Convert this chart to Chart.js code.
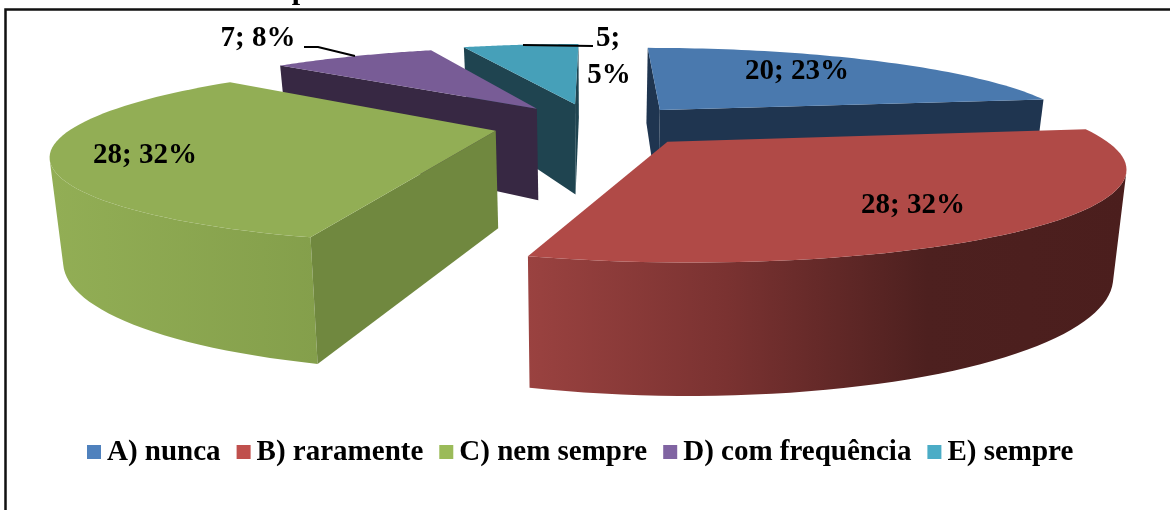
<!DOCTYPE html>
<html>
<head>
<meta charset="utf-8">
<style>
  html, body { margin: 0; padding: 0; background: #fff; }
  canvas { display: block; }
</style>
<script src="https://cdn.jsdelivr.net/npm/chart.js@4/dist/chart.umd.js"></script>
</head>
<body>
<canvas id="pieChart" width="1170" height="510"></canvas>
<script>
'use strict';

const categories = ['A) nunca', 'B) raramente', 'C) nem sempre', 'D) com frequência', 'E) sempre'];
const answers = [20, 28, 28, 7, 5];
const percents = [23, 32, 32, 8, 5];

// how far each slice is pulled out of the pie, as a share of the radius
const explode = [0.25, 0.255, 0.24, 0.25, 0.27];

const topColors = ['#4a79ae', '#b04a47', '#92ae55', '#785c96', '#46a0b9'];
const sideColors = ['#1f3550', '#953c3a', '#70883f', '#372843', '#1f4450'];
const wallShades = [
  ['#1f3550', '#1f3550'],
  ['#9a4240', '#7a3231', '#4d201f', '#4b1e1d'],
  ['#92ae55', '#849f4b'],
  ['#372843', '#372843'],
  ['#1f4450', '#1f4450']
];
const legendColors = ['#4f81bd', '#c0504d', '#9bbb59', '#8064a2', '#4bacc6'];

const serif = '"Liberation Serif", serif';

// perspective camera used for the tilted pie
const cam = { cx: 594, y0: 125, scaleX: 420, scaleY: 83, depth: 96, persp: 0.235, shrink: 0.025 };

function project(x, y, z) {
  const w = 1 / (1 + cam.persp * y);
  const s = 1 - cam.shrink * z;
  return {
    x: cam.cx + cam.scaleX * x * w * s,
    y: cam.y0 - cam.scaleY * y * w + cam.depth * z * w
  };
}

function sliceOutline(el, pull) {
  const mid = (el.startAngle + el.endAngle) / 2;
  const ax = Math.cos(mid) * pull;
  const ay = -Math.sin(mid) * pull;
  const pts = [[ax, ay]];
  const steps = 60;
  for (let i = 0; i <= steps; i++) {
    const a = el.startAngle + (el.endAngle - el.startAngle) * i / steps;
    pts.push([ax + Math.cos(a), ay - Math.sin(a)]);
  }
  return pts;
}

function fillPoly(ctx, pts, color) {
  ctx.beginPath();
  pts.forEach(function (p, i) {
    if (i === 0) ctx.moveTo(p.x, p.y);
    else ctx.lineTo(p.x, p.y);
  });
  ctx.closePath();
  ctx.fillStyle = color;
  ctx.fill();
}

function area(q) {
  let sum = 0;
  q.forEach(function (p, i) {
    const n = q[(i + 1) % q.length];
    sum += p.x * n.y - n.x * p.y;
  });
  return sum / 2;
}

// pie controller that draws every arc as an extruded slice
class Pie3DController extends Chart.PieController {
  draw() {
    const ctx = this.chart.ctx;
    const arcs = this.getMeta().data;
    const order = arcs.map(function (el, i) { return i; });
    const depthOf = function (i) { return -Math.sin((arcs[i].startAngle + arcs[i].endAngle) / 2); };
    order.sort(function (a, b) { return depthOf(b) - depthOf(a); });

    order.forEach(function (i) {
      const outline = sliceOutline(arcs[i], explode[i]);
      const top = outline.map(function (p) { return project(p[0], p[1], 0); });
      const bottom = outline.map(function (p) { return project(p[0], p[1], 1); });
      const last = outline.length - 1;

      // outer wall: one polygon along the part of the rim facing the camera
      const rimTop = [];
      const rimBottom = [];
      for (let k = 1; k < last; k++) {
        if (area([top[k], top[k + 1], bottom[k + 1], bottom[k]]) < 0) {
          if (!rimTop.length) {
            rimTop.push(top[k]);
            rimBottom.push(bottom[k]);
          }
          rimTop.push(top[k + 1]);
          rimBottom.push(bottom[k + 1]);
        }
      }
      if (rimTop.length) {
        const wall = rimTop.concat(rimBottom.reverse());
        const xs = wall.map(function (p) { return p.x; });
        const shade = ctx.createLinearGradient(Math.min.apply(null, xs), 0, Math.max.apply(null, xs), 0);
        wallShades[i].forEach(function (c, n) {
          shade.addColorStop(n / (wallShades[i].length - 1), c);
        });
        fillPoly(ctx, wall, shade);
      }

      // the two cut faces, only when they look towards the camera
      [[0, 1], [last, 0]].forEach(function (e) {
        const q = [top[e[0]], top[e[1]], bottom[e[1]], bottom[e[0]]];
        if (area(q) < 0) fillPoly(ctx, q, sideColors[i]);
      });

      fillPoly(ctx, top, topColors[i]);
    });
  }
}
Pie3DController.id = 'pie3d';
Pie3DController.defaults = Chart.PieController.defaults;
Pie3DController.overrides = Chart.PieController.overrides;
Chart.register(Pie3DController);

// frame, cut off heading letter, value labels with leaders and the legend row
const decorations = {
  id: 'decorations',
  beforeDraw(chart) {
    const ctx = chart.ctx;
    ctx.save();
    ctx.strokeStyle = '#111';
    ctx.lineWidth = 2.5;
    ctx.beginPath();
    ctx.moveTo(5.5, 510);
    ctx.lineTo(5.5, 9.5);
    ctx.lineTo(1170, 9.5);
    ctx.stroke();
    ctx.fillStyle = '#000';
    ctx.font = 'bold 30px ' + serif;
    ctx.textAlign = 'center';
    ctx.textBaseline = 'alphabetic';
    ctx.fillText('p', 300, -1);
    ctx.restore();
  },
  afterDraw(chart) {
    const ctx = chart.ctx;
    ctx.save();
    ctx.strokeStyle = '#000';
    ctx.lineWidth = 2;
    ctx.beginPath();
    ctx.moveTo(304, 47);
    ctx.lineTo(318, 47);
    ctx.lineTo(355, 56);
    ctx.moveTo(523, 45);
    ctx.lineTo(593, 46);
    ctx.stroke();

    ctx.fillStyle = '#000';
    ctx.font = 'bold 29px ' + serif;
    ctx.textAlign = 'center';
    ctx.textBaseline = 'middle';
    const spots = [[797, 72], [913, 206], [145, 156], [258, 39]];
    spots.forEach(function (s, i) {
      ctx.fillText(answers[i] + '; ' + percents[i] + '%', s[0], s[1]);
    });
    ctx.fillText(answers[4] + ';', 608, 39);
    ctx.fillText(percents[4] + '%', 609, 76);

    let x = 87;
    const y = 452;
    ctx.textAlign = 'left';
    categories.forEach(function (label, i) {
      ctx.fillStyle = legendColors[i];
      ctx.fillRect(x, y - 7, 14, 14);
      ctx.fillStyle = '#000';
      ctx.fillText(label, x + 20, y + 1);
      x += 20 + ctx.measureText(label).width + 16;
    });
    ctx.restore();
  }
};

new Chart(document.getElementById('pieChart').getContext('2d'), {
  type: 'pie3d',
  data: {
    labels: categories,
    datasets: [{ data: answers, backgroundColor: topColors, borderWidth: 0 }]
  },
  options: {
    responsive: false,
    animation: false,
    plugins: {
      legend: { display: false },
      tooltip: { enabled: false }
    }
  },
  plugins: [decorations]
});
</script>
</body>
</html>
